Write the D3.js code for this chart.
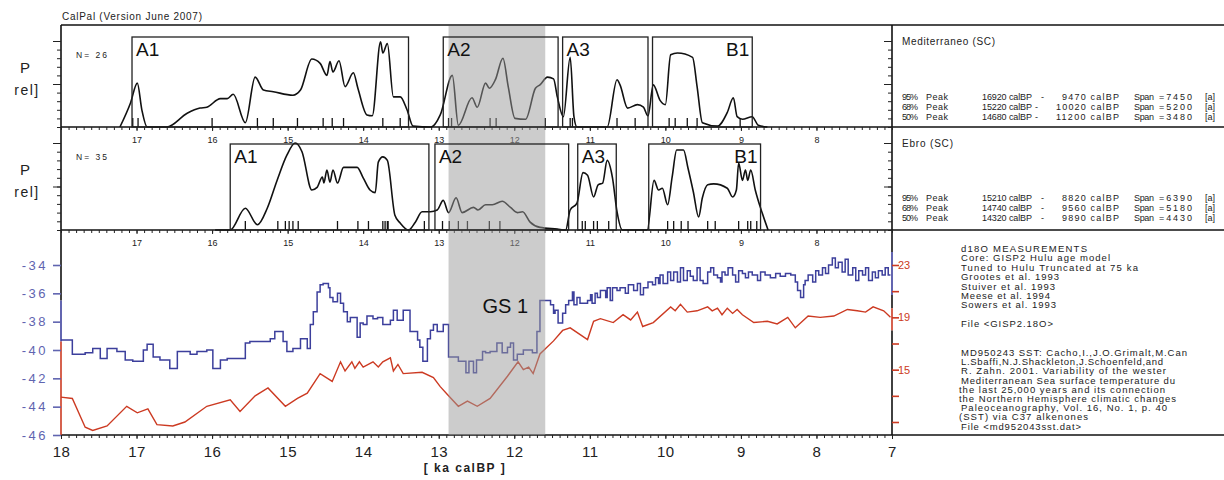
<!DOCTYPE html>
<html>
<head>
<meta charset="utf-8">
<script src="https://cdn.jsdelivr.net/npm/d3@7"></script>
<style>
  body { margin: 0; background: #fff; }
  svg { font-family: Arial, "Liberation Sans", sans-serif; }
</style>
</head>
<body>
<div id="container"></div>
<script>
/* DATA */
const kaLabelsBottom = [18, 17, 16, 15, 14, 13, 12, 11, 10, 9, 8, 7];
const kaLabelsInner = [17, 16, 15, 14, 13, 12, 11, 10, 9, 8];
const greenlandStadial = [12.87, 11.59];

// summed calibrated probability, Mediterraneo (ka calBP, relative P)
const medDensity = [[17.22,0],[17.08,0.28],[16.99,0.51],[16.93,0.2],[16.86,0],[16.60,0],[16.33,0.16],[16.16,0.22],[16.07,0.23],[15.89,0.33],[15.80,0.33],[15.72,0.38],[15.56,0.05],[15.43,0.58],[15.32,0.43],[15.19,0.41],[14.93,0.37],[14.83,0.43],[14.68,0.79],[14.57,0.74],[14.48,0.60],[14.44,0.76],[14.40,0.64],[14.32,0.77],[14.24,0.47],[14.13,0.63],[14.07,0.45],[13.95,0.14],[13.88,0.13],[13.77,0.99],[13.74,0.86],[13.68,0.97],[13.60,0.35],[13.51,0.35],[13.42,0.20],[13.34,0.01],[13.10,0],[12.98,0.14],[12.82,0.60],[12.74,0.02],[12.56,0.34],[12.49,0.23],[12.38,0.51],[12.33,0.45],[12.25,0.55],[12.15,0.80],[12.08,0.47],[11.99,0.10],[11.85,0.09],[11.72,0.45],[11.66,0.49],[11.56,0.58],[11.48,0.56],[11.43,0.35],[11.35,0.12],[11.26,0.81],[11.21,0.12],[11.17,0],[10.77,0],[10.64,0.55],[10.60,0.49],[10.50,0.22],[10.37,0.26],[10.29,0.23],[10.23,0.13],[10.16,0.49],[10.07,0.31],[10.00,0.26],[9.93,0.84],[9.84,0.86],[9.64,0.81],[9.58,0.47],[9.51,0.05],[9.31,0.01],[9.18,0.17],[9.10,0.34],[9.05,0.12],[8.98,0.09],[8.85,0.12],[8.77,0.02],[8.65,0]];
const medSamples = [17.05,16.98,16.00,15.40,15.19,14.87,14.53,14.41,14.26,13.74,13.51,12.87,12.83,12.32,12.24,11.59,11.26,11.23,10.64,10.40,9.95,9.87,9.71,9.58,9.01];
const medBoxes = [["A1",17.06,13.40,"start"],["A2",12.94,11.42,"start"],["A3",11.36,10.23,"start"],["B1",10.17,8.85,"end"]];
const medInfo = { name: "Mediterraneo (SC)", n: 26,
  rows: [["95%","16920","9470","7450"],["68%","15220","10020","5200"],["50%","14680","11200","3480"]] };

// summed calibrated probability, Ebro
const ebroDensity = [[15.96,0],[15.76,0],[15.56,0.25],[15.40,0.06],[15.27,0.25],[15.14,0.57],[15.01,0.86],[14.90,1.0],[14.81,0.90],[14.68,0.46],[14.61,0.49],[14.54,0.61],[14.52,0.54],[14.48,0.69],[14.44,0.55],[14.40,0.69],[14.34,0.54],[14.26,0.72],[14.08,0.72],[14.00,0.60],[13.91,0.46],[13.84,0.43],[13.80,0.78],[13.74,0.84],[13.68,0.80],[13.58,0.17],[13.51,0.08],[13.40,0],[13.31,0.09],[13.22,0.21],[13.11,0.21],[13.02,0.23],[12.94,0.34],[12.87,0.20],[12.77,0.37],[12.69,0.20],[12.54,0.26],[12.48,0.23],[12.38,0.29],[12.29,0.29],[12.16,0.33],[12.05,0.26],[11.96,0.20],[11.89,0.21],[11.79,0.09],[11.66,0.03],[11.43,0.01],[11.32,0],[11.26,0.23],[11.17,0.31],[11.09,0.66],[11.03,0.63],[10.95,0.38],[10.89,0.52],[10.83,0.54],[10.77,0.80],[10.70,0.60],[10.64,0.21],[10.57,0],[10.24,0],[10.15,0.57],[10.09,0.46],[10.04,0.48],[9.97,0.29],[9.91,0.61],[9.85,0.92],[9.76,0.92],[9.70,0.71],[9.63,0.44],[9.56,0.15],[9.51,0.37],[9.44,0.52],[9.36,0.53],[9.18,0.48],[9.11,0.38],[9.06,0.46],[9.03,0.77],[8.98,0.57],[8.94,0.69],[8.91,0.57],[8.87,0.69],[8.81,0.46],[8.72,0.20],[8.64,0]];
const ebroSamples = [15.56,15.13,15.03,14.98,14.93,14.86,14.34,14.07,13.93,13.74,13.71,13.68,13.67,13.19,12.95,12.86,12.74,12.62,12.33,12.19,11.10,11.06,10.95,10.90,10.75,9.97,9.89,9.79,9.70,9.44,9.34,9.03,8.91,8.87,8.79];
const ebroBoxes = [["A1",15.76,13.13,"start"],["A2",13.05,11.28,"start"],["A3",11.16,10.65,"start"],["B1",10.22,8.74,"end"]];
const ebroInfo = { name: "Ebro (SC)", n: 35,
  rows: [["95%","15210","8820","6390"],["68%","14740","9560","5180"],["50%","14320","9890","4430"]] };

// GISP2 d18O (step series, ka calBP, permil)
const d18O = [[18.00,-39.3],[17.85,-40.3],[17.68,-40.2],[17.58,-39.9],[17.48,-40.6],[17.39,-39.9],[17.26,-40.1],[17.15,-40.7],[17.05,-40.8],[16.91,-40.0],[16.86,-39.6],[16.78,-40.5],[16.69,-40.7],[16.56,-41.3],[16.46,-40.1],[16.29,-40.3],[16.20,-40.1],[16.07,-40.0],[15.99,-41.3],[15.89,-40.7],[15.80,-40.6],[15.56,-39.5],[15.50,-39.4],[15.23,-39.2],[15.17,-38.7],[15.06,-39.4],[15.01,-40.1],[14.93,-39.9],[14.83,-39.2],[14.74,-39.9],[14.70,-38.2],[14.66,-37.3],[14.61,-35.9],[14.57,-35.4],[14.53,-35.3],[14.46,-35.6],[14.44,-36.3],[14.40,-36.6],[14.34,-36.0],[14.30,-36.7],[14.26,-37.3],[14.21,-38.0],[14.17,-37.7],[14.08,-39.1],[14.04,-38.1],[14.00,-38.2],[13.95,-37.6],[13.87,-37.8],[13.81,-37.7],[13.74,-38.2],[13.64,-37.9],[13.60,-37.2],[13.55,-37.9],[13.47,-37.2],[13.38,-38.7],[13.28,-39.3],[13.25,-39.8],[13.21,-40.8],[13.15,-39.2],[13.11,-38.6],[13.07,-38.2],[13.02,-38.7],[12.94,-38.2],[12.87,-40.5],[12.74,-40.8],[12.64,-41.6],[12.60,-40.8],[12.54,-41.6],[12.50,-40.7],[12.42,-40.1],[12.38,-40.2],[12.32,-40.1],[12.23,-39.5],[12.16,-40.2],[12.09,-39.8],[12.05,-39.5],[12.01,-40.7],[11.96,-40.3],[11.88,-40.0],[11.76,-40.2],[11.70,-38.7],[11.66,-36.5],[11.52,-36.8],[11.48,-37.4],[11.46,-37.2],[11.42,-38.1],[11.36,-37.4],[11.32,-36.8],[11.28,-36.5],[11.23,-35.9],[11.21,-36.8],[11.17,-36.3],[11.13,-36.7],[11.03,-36.5],[10.99,-36.1],[10.97,-36.7],[10.93,-36.0],[10.90,-36.3],[10.86,-35.8],[10.79,-36.3],[10.77,-35.6],[10.73,-36.5],[10.70,-35.6],[10.64,-35.8],[10.60,-35.6],[10.53,-36.0],[10.49,-35.4],[10.42,-35.8],[10.37,-35.3],[10.33,-36.1],[10.29,-35.6],[10.23,-35.2],[10.17,-35.4],[10.13,-34.9],[10.09,-35.3],[10.07,-34.7],[10.03,-35.3],[9.97,-34.5],[9.93,-35.1],[9.89,-34.5],[9.84,-35.2],[9.80,-34.2],[9.76,-35.1],[9.71,-34.4],[9.67,-34.8],[9.63,-35.1],[9.58,-34.2],[9.54,-35.1],[9.50,-35.3],[9.44,-34.5],[9.40,-34.2],[9.36,-34.7],[9.31,-34.9],[9.27,-35.2],[9.25,-34.5],[9.21,-34.7],[9.17,-34.2],[9.11,-34.7],[9.07,-35.2],[9.03,-34.4],[8.98,-34.6],[8.94,-34.9],[8.90,-34.5],[8.85,-34.7],[8.78,-35.1],[8.74,-34.5],[8.68,-34.7],[8.61,-34.9],[8.54,-34.6],[8.48,-34.8],[8.41,-34.6],[8.34,-34.7],[8.28,-35.2],[8.25,-35.8],[8.21,-36.3],[8.17,-35.4],[8.15,-35.1],[8.11,-34.7],[8.05,-35.2],[8.01,-34.4],[7.97,-34.7],[7.92,-34.2],[7.88,-34.6],[7.84,-34.0],[7.79,-33.5],[7.75,-34.2],[7.71,-33.8],[7.66,-34.5],[7.62,-33.6],[7.58,-34.7],[7.52,-34.2],[7.48,-35.1],[7.44,-34.4],[7.39,-34.7],[7.35,-34.2],[7.31,-35.1],[7.26,-34.5],[7.22,-34.9],[7.18,-34.4],[7.13,-34.7],[7.09,-34.2],[7.05,-34.7],[7.02,-34.7]];
const d18OTicks = [-34, -36, -38, -40, -42, -44, -46];

// MD95-2043 alkenone SST (ka calBP, degC)
const sst = [[18.00,12.9],[17.85,12.8],[17.68,10.6],[17.58,10.35],[17.39,10.7],[17.13,12.2],[16.99,11.7],[16.85,12.0],[16.73,10.8],[16.52,10.7],[16.36,11.0],[16.07,12.2],[15.76,12.7],[15.63,11.8],[15.43,13.0],[15.26,13.6],[15.03,12.2],[14.87,12.8],[14.74,13.2],[14.57,14.7],[14.41,14.1],[14.30,15.6],[14.24,14.9],[14.15,15.6],[14.11,15.1],[14.05,15.6],[14.00,15.2],[13.87,15.6],[13.80,15.2],[13.74,15.6],[13.64,15.9],[13.60,14.9],[13.54,15.4],[13.47,14.7],[13.22,14.8],[13.07,14.4],[12.98,13.7],[12.87,13.0],[12.74,12.2],[12.62,12.6],[12.49,12.2],[12.32,12.8],[12.09,14.5],[11.95,15.6],[11.88,15.0],[11.81,15.2],[11.75,14.7],[11.66,16.2],[11.48,17.2],[11.36,18.0],[11.26,18.2],[11.03,17.3],[10.95,18.7],[10.86,18.9],[10.69,18.6],[10.56,19.2],[10.46,18.8],[10.37,19.4],[10.30,18.3],[10.16,18.6],[9.93,19.8],[9.87,19.5],[9.80,20.0],[9.71,19.4],[9.58,19.5],[9.44,19.8],[9.38,19.5],[9.31,19.7],[9.25,19.2],[9.18,19.7],[9.11,19.3],[9.05,19.6],[8.98,19.2],[8.83,18.6],[8.65,18.7],[8.52,18.5],[8.38,19.0],[8.28,18.2],[8.11,19.1],[7.95,19.0],[7.77,19.1],[7.59,19.6],[7.46,19.5],[7.35,19.4],[7.25,19.8],[7.11,19.5],[7.02,19.0]];
const sstTicks = [23, 21, 19, 17, 15, 13, 11];
const sstLabels = [23, 19, 15];

const d18OText = ["d18O MEASUREMENTS","Core: GISP2 Hulu age model","Tuned to Hulu Truncated at 75 ka","Grootes et al. 1993","Stuiver et al. 1993","Meese et al. 1994","Sowers et al. 1993"];
const d18OFile = "File <GISP2.18O>";
const sstText = ["MD950243 SST: Cacho,I.,J.O.Grimalt,M.Can","L.Sbaffi,N.J.Shackleton,J.Schoenfeld,and","R. Zahn. 2001. Variability of the wester","Mediterranean Sea surface temperature du","the last 25,000 years and its connection","the Northern Hemisphere climatic changes","Paleoceanography, Vol. 16, No. 1, p. 40","(SST) via C37 alkenones","File <md952043sst.dat>"];

/* CONSTANTS */
const width = 1224, height = 480;
const left = 61, right = 892, edge = 1224;
const blue = "#3c3f9c", blueText = "#6064b0", red = "#cc3a22";
// measured line widths of the notes (px), for textLength
const d18OWidths = [126, 149, 177, 98, 94, 89, 95];
const sstWidths = [226, 202, 205, 214, 206, 217, 206, 129, 120];

const svg = d3.select("#container").append("svg")
  .attr("width", width).attr("height", height);

/* SCALES */
const x = d3.scaleLinear().domain([18, 7]).range([left, right]);
const yMed = d3.scaleLinear().domain([0, 1]).range([127, 41]);
const yEbro = d3.scaleLinear().domain([0, 1]).range([230, 143]);
const yO = d3.scaleLinear().domain([-46, -34]).range([435, 265]);
const yS = d3.scaleLinear().domain([11, 23]).range([422, 265]);

const minorKa = d3.range(70, 181).map(d => d / 10);

/* FRAME */
[25, 127, 230, 435].forEach(yy => {
  svg.append("line").attr("x1", left).attr("x2", edge).attr("y1", yy).attr("y2", yy)
    .attr("stroke", "#111").attr("stroke-width", 1.6);
});
function vseg(xx, y1, y2, col) {
  svg.append("line").attr("x1", xx).attr("x2", xx).attr("y1", y1).attr("y2", y2)
    .attr("stroke", col).attr("stroke-width", 1.6);
}
vseg(left, 25, 230, "#111");
vseg(right, 25, 230, "#111");
vseg(left, 230, yO(-36.5), "#111");
vseg(left, yO(-36.5), yO(-39.4), blue);
vseg(left, yO(-39.4), 435, red);
vseg(right, 230, yS(24), "#111");
vseg(right, yS(24), yS(20.7), blue);
vseg(right, yS(20.7), yS(19.7), "#111");
vseg(right, yS(19.7), yS(18), red);
vseg(right, yS(18), 435, "#111");

/* X AXES */
function xTicks(yy, labels, fs, pad) {
  const g1 = svg.append("g").attr("transform", `translate(0,${yy})`)
    .call(d3.axisBottom(x).tickValues(minorKa).tickSize(3).tickFormat(""));
  g1.select(".domain").remove();
  const g2 = svg.append("g").attr("transform", `translate(0,${yy})`)
    .call(d3.axisBottom(x).tickValues(labels).tickSize(4).tickPadding(pad).tickFormat(d => d));
  g2.select(".domain").remove();
  g1.attr("font-family", null);
  g2.attr("font-family", null);
  g2.selectAll("text").attr("font-size", fs).attr("fill", "#222");
  svg.selectAll(".tick line").attr("stroke", "#222");
  return g2;
}
xTicks(127, kaLabelsInner, 9, 6);
xTicks(230, kaLabelsInner, 9, 6);
const bottomAxis = xTicks(435, kaLabelsBottom, 15, 7);
bottomAxis.selectAll("text").style("letter-spacing", "0.5px");

/* P-REL PANELS */
function pTicks(y) {
  [left, right].forEach(xx => {
    const a = svg.append("g").attr("transform", `translate(${xx},0)`)
      .call(d3.axisLeft(y).tickValues(d3.range(0, 11).map(d => d / 10)).tickSize(4).tickFormat(""));
    a.select(".domain").remove();
    const b = svg.append("g").attr("transform", `translate(${xx},0)`)
      .call(d3.axisLeft(y).tickValues([0.5, 1]).tickSize(8).tickFormat(""));
    b.select(".domain").remove();
    svg.selectAll(".tick line").attr("stroke", "#222");
  });
}
pTicks(yMed);
pTicks(yEbro);

const line = y => d3.line().x(d => x(d[0])).y(d => y(d[1])).curve(d3.curveMonotoneX);

function panel(density, samples, y) {
  svg.append("path").datum(density).attr("d", line(y))
    .attr("fill", "none").attr("stroke", "#111").attr("stroke-width", 1.6);
  svg.selectAll(null).data(samples).join("line")
    .attr("x1", d => x(d)).attr("x2", d => x(d))
    .attr("y1", y(0)).attr("y2", y(0) - 9)
    .attr("stroke", "#111").attr("stroke-width", 1.3);
}
panel(medDensity, medSamples, yMed);
panel(ebroDensity, ebroSamples, yEbro);

/* PROXY PANEL */
svg.append("path").datum(sst)
  .attr("d", d3.line().x(d => x(d[0])).y(d => yS(d[1])))
  .attr("fill", "none").attr("stroke", red).attr("stroke-width", 1.4);
svg.append("path").datum(d18O)
  .attr("d", d3.line().x(d => x(d[0])).y(d => yO(d[1])).curve(d3.curveStepAfter))
  .attr("fill", "none").attr("stroke", blue).attr("stroke-width", 1.5);

const ax = svg.append("g").attr("transform", `translate(${left},0)`)
  .call(d3.axisLeft(yO).tickValues(d18OTicks).tickSize(8).tickPadding(5).tickFormat(d => d));
ax.select(".domain").remove();
ax.attr("font-family", null);
ax.selectAll("line").attr("stroke", blueText).attr("stroke-width", 1.6);
ax.selectAll("text").attr("fill", blueText).attr("font-size", 13).style("letter-spacing", "2.5px");

const sx = svg.append("g").attr("transform", `translate(${right},0)`)
  .call(d3.axisRight(yS).tickValues(sstTicks).tickSize(7).tickPadding(-1)
    .tickFormat(d => sstLabels.includes(d) ? d : ""));
sx.select(".domain").remove();
sx.attr("font-family", null);
sx.selectAll("line").attr("stroke", red).attr("stroke-width", 1.6);
sx.selectAll("text").attr("fill", red).attr("font-size", 11);

/* GS 1 SHADING */
svg.append("rect")
  .attr("x", x(greenlandStadial[0])).attr("width", x(greenlandStadial[1]) - x(greenlandStadial[0]))
  .attr("y", 26).attr("height", 409)
  .attr("fill", "#9a9a9a").attr("opacity", 0.5);
svg.append("text").attr("x", x(12.42)).attr("y", 313).attr("font-size", 20).attr("fill", "#111").text("GS 1");

/* PHASE BOXES */
function boxes(list, top, y) {
  list.forEach(([name, a, b, anchor]) => {
    svg.append("rect").attr("x", x(a)).attr("y", top).attr("width", x(b) - x(a)).attr("height", y(0) - top)
      .attr("fill", "none").attr("stroke", "#222").attr("stroke-width", 1.3);
    svg.append("text").attr("x", anchor === "start" ? x(a) + 4 : x(b) - 3).attr("y", top + 19)
      .attr("text-anchor", anchor).attr("font-size", 19).attr("fill", "#111").text(name);
  });
}
boxes(medBoxes, 37, yMed);
boxes(ebroBoxes, 144, yEbro);

/* TEXT */
function txt(xx, yy, s, opt = {}) {
  const t = svg.append("text").attr("x", xx).attr("y", yy)
    .attr("font-size", opt.fs || 9).attr("text-anchor", opt.anchor || "start")
    .attr("fill", opt.fill || "#222").text(s);
  if (opt.len) t.attr("textLength", opt.len).attr("lengthAdjust", "spacing");
  if (opt.ls) t.style("letter-spacing", opt.ls);
  return t;
}
txt(62, 20, "CalPal (Version June 2007)", { fs: 10, len: 140 });

function info(inf, top, baseY, nameLen) {
  txt(76, top + 33, `N=  ${inf.n}`, { fs: 8.5, len: 31 });
  txt(25, top + 48, "P", { fs: 15, anchor: "middle" });
  txt(27, top + 70, "rel]", { fs: 14, ls: "1.5px", anchor: "middle" });
  txt(902, top + 20, inf.name, { fs: 10, len: nameLen });
  inf.rows.forEach((r, i) => {
    const yy = baseY + i * 10;
    txt(902, yy, r[0], { len: 16 }); txt(926, yy, "Peak", { len: 22 });
    txt(982, yy, `${r[1]} calBP`, { len: 50 });
    txt(r[2].length > 4 ? 1035 : 1041, yy, "-");
    txt(1119, yy, `${r[2]} calBP`, { anchor: "end", len: r[2].length > 4 ? 63 : 57 });
    txt(1134, yy, "Span", { len: 20 }); txt(1159, yy, "=" + r[3], { len: 33 }); txt(1205, yy, "[a]", { len: 10 });
  });
}
info(medInfo, 25, 100, 93);
info(ebroInfo, 127, 201, 51);

d18OText.forEach((s, i) => txt(961, 252 + i * 9.4, s, { fs: 9.5, len: d18OWidths[i] }));
txt(961, 327, d18OFile, { fs: 9.5, len: 92 });
sstText.forEach((s, i) => txt(i === 4 || i === 5 || i === 7 ? 959 : 961, 356 + i * 9.2, s, { fs: 9.5, len: sstWidths[i] }));

svg.append("text").attr("x", 465).attr("y", 472).attr("text-anchor", "middle")
  .attr("font-size", 12).attr("font-weight", "bold").style("letter-spacing", "1.5px")
  .attr("fill", "#222").text("[ ka calBP ]");
</script>
</body>
</html>
